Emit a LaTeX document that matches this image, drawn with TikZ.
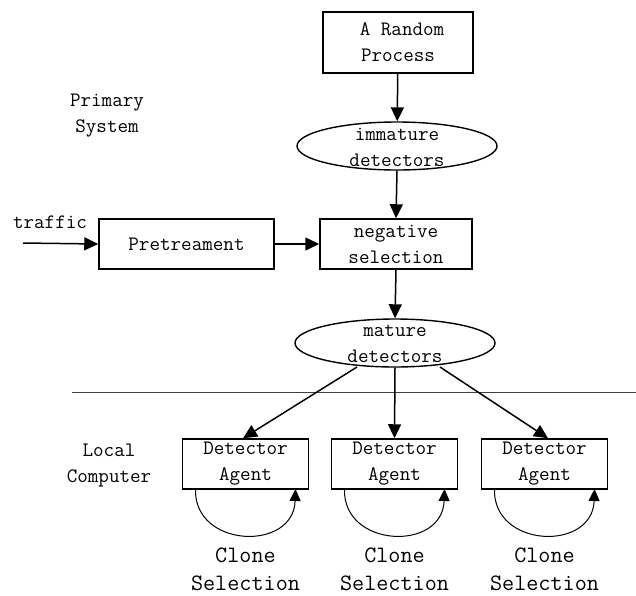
\documentclass[tikz,border=0pt]{standalone}
\usepackage{fontspec}
\usetikzlibrary{arrows.meta,shapes.geometric}
\begin{document}
\begin{tikzpicture}[x=1pt,y=-1pt,
  every node/.style={font=\ttfamily\fontsize{20.5}{26}\selectfont, align=center, inner sep=0pt},
  procbox/.style={draw, line width=1.5pt, minimum width=#1, minimum height=50pt},
  pool/.style={draw, ellipse, line width=1.4pt, minimum width=200pt, minimum height=48pt},
  flow/.style={line width=1.5pt, -{Triangle[length=14pt,width=13pt]}},
  loop/.style={line width=1pt, -{Triangle[length=12pt,width=11pt]}},
  caption/.style={font=\ttfamily\fontsize{23.5}{28}\selectfont}]
\useasboundingbox (0,0) rectangle (636,595);

% primary system
\node[procbox=150pt, minimum height=61pt] (rand) at (398,42.5) {\hspace{8pt}A Random\\Process};
\node[pool] (imm) at (397,146) {};
\node at (397,147.5) {immature\\detectors};
\node[procbox=152pt] (neg) at (396,244) {negative\\selection};
\node[procbox=175pt] (pre) at (186.5,244) {Pretreament};
\coordinate (src) at (23,243);
\node at (50,222) {traffic};
\node[pool] (mat) at (395,343) {};
\node at (395,343.5) {mature\\detectors};

\node at (107,116) {Primary\\System};

\draw[flow] (rand) -- (imm);
\draw[flow] (imm.south) -- (neg.north);
\draw[flow] (src) -- (pre.west);
\draw[flow] (pre.east) -- (neg.west |- pre.east);
\draw[flow] (neg.south) -- (mat.north);

% boundary between primary system and local computers
\coordinate (sepL) at (72,392);
\coordinate (sepR) at (636,392);
\draw[line width=0.9pt, black!75] (sepL) -- (sepR);

\node at (109,465.5) {Local\\Computer};

% local detector agents with their clone selection loops
\foreach \i/\x in {1/245.5, 2/394.5, 3/544.5} {
  \node[procbox=126pt] (ag\i) at (\x,464) {Detector\\Agent};
  \coordinate (ls\i) at (\x-50,489);
  \coordinate (le\i) at (\x+50,489);
  \draw[loop] (ls\i) .. controls (\x-52,548) and (\x+48,552) .. (le\i);
  \node[caption] at (\x,569) {Clone\\Selection};
}

\draw[flow] (357,367) -- (ag1.north -| 243,0);
\draw[flow] (mat.south) -- (ag2.north);
\draw[flow] (440,367) -- (ag3.north -| 548,0);
\end{tikzpicture}
\end{document}
